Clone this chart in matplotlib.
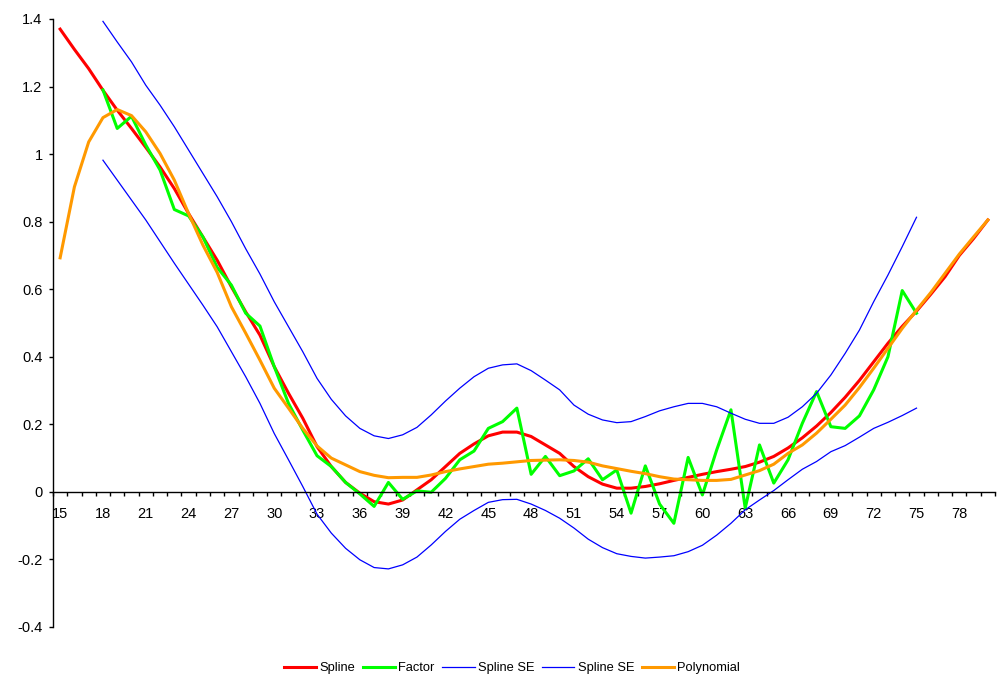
import numpy as np
import matplotlib.pyplot as plt

plt.rcParams['font.family'] = ['Liberation Sans', 'DejaVu Sans']

# age categories 15..80
ages = np.arange(15, 81)
ages_se = np.arange(18, 76)

spline = [1.37, 1.31, 1.253, 1.189, 1.13, 1.076, 1.02, 0.962, 0.898, 0.824,
          0.755, 0.686, 0.607, 0.533, 0.464, 0.371, 0.292, 0.218, 0.134, 0.075,
          0.028, -0.004, -0.029, -0.036, -0.024, 0.006, 0.036, 0.075, 0.114, 0.142,
          0.166, 0.177, 0.177, 0.164, 0.139, 0.114, 0.075, 0.045, 0.023, 0.011,
          0.011, 0.016, 0.024, 0.034, 0.043, 0.052, 0.06, 0.067, 0.075, 0.088,
          0.105, 0.13, 0.16, 0.195, 0.235, 0.28, 0.33, 0.385, 0.44, 0.49,
          0.535, 0.585, 0.637, 0.70, 0.75, 0.805]

factor = [1.19, 1.076, 1.112, 1.027, 0.953, 0.836, 0.817, 0.755, 0.665, 0.612,
          0.529, 0.491, 0.371, 0.262, 0.183, 0.107, 0.075, 0.028, -0.006, -0.043,
          0.028, -0.022, 0.003, -0.001, 0.04, 0.095, 0.121, 0.188, 0.208, 0.248,
          0.052, 0.105, 0.048, 0.062, 0.098, 0.036, 0.065, -0.063, 0.077, -0.036,
          -0.093, 0.102, -0.009, 0.124, 0.243, -0.048, 0.139, 0.026, 0.095, 0.203,
          0.297, 0.193, 0.188, 0.225, 0.302, 0.40, 0.596, 0.529]

se_upper = [1.393, 1.332, 1.273, 1.204, 1.145, 1.081, 1.012, 0.943, 0.874, 0.80,
            0.72, 0.645, 0.563, 0.489, 0.415, 0.336, 0.274, 0.225, 0.188, 0.166,
            0.158, 0.169, 0.191, 0.228, 0.269, 0.307, 0.341, 0.366, 0.376, 0.379,
            0.359, 0.331, 0.302, 0.257, 0.23, 0.213, 0.205, 0.208, 0.223, 0.24,
            0.252, 0.262, 0.262, 0.252, 0.233, 0.215, 0.203, 0.203, 0.221, 0.252,
            0.292, 0.346, 0.41, 0.479, 0.563, 0.642, 0.726, 0.813]

se_lower = [0.982, 0.923, 0.864, 0.805, 0.741, 0.677, 0.615, 0.553, 0.489, 0.415,
            0.341, 0.262, 0.173, 0.095, 0.016, -0.066, -0.122, -0.167, -0.201, -0.224,
            -0.228, -0.216, -0.193, -0.157, -0.117, -0.081, -0.055, -0.031, -0.023, -0.022,
            -0.036, -0.055, -0.078, -0.107, -0.14, -0.165, -0.183, -0.191, -0.196, -0.193,
            -0.189, -0.177, -0.158, -0.128, -0.093, -0.053, -0.024, 0.004, 0.036, 0.067,
            0.09, 0.119, 0.137, 0.162, 0.188, 0.206, 0.226, 0.248]

polynomial = [0.693, 0.903, 1.036, 1.108, 1.132, 1.114, 1.066, 1.002, 0.923, 0.824,
              0.731, 0.65, 0.548, 0.47, 0.39, 0.307, 0.248, 0.188, 0.136, 0.10,
              0.08, 0.06, 0.049, 0.042, 0.043, 0.043, 0.05, 0.06, 0.068, 0.075,
              0.082, 0.085, 0.089, 0.093, 0.094, 0.095, 0.093, 0.088, 0.077, 0.069,
              0.061, 0.054, 0.045, 0.038, 0.036, 0.034, 0.034, 0.037, 0.05, 0.063,
              0.082, 0.114, 0.139, 0.174, 0.215, 0.257, 0.309, 0.366, 0.425, 0.484,
              0.538, 0.59, 0.647, 0.704, 0.755, 0.805]

fig = plt.figure(figsize=(9.98, 6.78), dpi=100)
ax = fig.add_axes([53 / 998, 1 - 627 / 678, 942 / 998, 608 / 678])

ax.plot(ages, spline, color='#FF0000', lw=2.2, label='Spline')
ax.plot(ages_se, factor, color='#00FF00', lw=2.2, label='Factor')
ax.plot(ages_se, se_upper, color='#0000FF', lw=0.9, label='Spline SE')
ax.plot(ages_se, se_lower, color='#0000FF', lw=0.9, label='Spline SE')
ax.plot(ages, polynomial, color='#FF9900', lw=2.2, label='Polynomial')

ax.set_xlim(14.5, 80.5)
ax.set_ylim(-0.4, 1.4)

# axes: category axis crossing at y = 0
ax.spines['top'].set_visible(False)
ax.spines['right'].set_visible(False)
ax.spines['bottom'].set_position(('data', 0))
for s in ('left', 'bottom'):
    ax.spines[s].set_linewidth(1.0)

yt = np.round(np.arange(-0.4, 1.41, 0.2), 1)
ax.set_yticks(yt)
ax.set_yticklabels(['%g' % v for v in yt])
ax.tick_params(axis='y', direction='out', length=3, width=1, pad=4.5,
               labelsize=10.5)

# tick marks at category boundaries, labels on every third category
ax.set_xticks(np.arange(14.5, 81, 1))
ax.set_xticklabels([])
ax.tick_params(axis='x', which='major', direction='out', length=3, width=1)
ax.set_xticks(np.arange(15, 79, 3), minor=True)
ax.set_xticklabels([str(v) for v in range(15, 79, 3)], minor=True)
ax.tick_params(axis='x', which='minor', length=0, pad=11, labelsize=10.5)

fig.legend(loc='center', bbox_to_anchor=(0.513, 0.0147), ncol=5,
           frameon=False, fontsize=9.3, handlelength=2.5, handletextpad=0.25,
           columnspacing=0.6)

fig.savefig('out.png', dpi=100)
